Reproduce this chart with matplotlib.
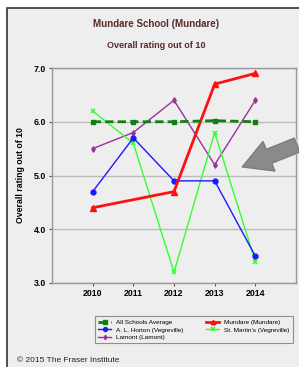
import matplotlib
matplotlib.use("Agg")
from matplotlib import pyplot as plt
from matplotlib.patches import Rectangle, FancyArrow
from matplotlib.transforms import IdentityTransform

plt.rcParams['font.family'] = ['Liberation Sans', 'DejaVu Sans']

anos = [2010, 2011, 2012, 2013, 2014]
media_escolas = [6.0, 6.0, 6.0, 6.02, 6.0]
anos_mundare = [2010, 2012, 2013, 2014]
mundare = [4.4, 4.7, 6.7, 6.9]
horton = [4.7, 5.7, 4.9, 4.9, 3.5]
st_martins = [6.2, 5.6, 3.2, 5.8, 3.4]
lamont = [5.5, 5.8, 6.4, 5.2, 6.4]

fundo = "#eeeeee"
cor_titulo = "#5a2a2a"

fig = plt.figure(figsize=(2.99, 3.67), dpi=100)
fig.patch.set_facecolor("white")

# moldura externa
fig.patches.append(Rectangle((7, -20), 320, 367 - 8 + 20, transform=IdentityTransform(),
                             facecolor=fundo, edgecolor="#333333", linewidth=1.2, zorder=-5))

ax = fig.add_axes([52 / 299, 1 - 283 / 367, 244 / 299, 215 / 367])
ax.set_facecolor(fundo)

ax.plot(anos, lamont, color="#993399", lw=1, marker="d", ms=2.8, label="Lamont (Lamont)", zorder=3)
ax.plot(anos, st_martins, color="#33ff33", lw=1, marker="x", ms=3, mew=1.2,
        label="St. Martin's (Vegreville)", zorder=3)
ax.plot(anos, horton, color="#1a1aff", lw=1, marker="o", ms=3.5, label="A. L. Horton (Vegreville)", zorder=3)
ax.plot(anos_mundare, mundare, color="#ff1010", lw=2, marker="^", ms=4,
        label="Mundare (Mundare)", zorder=4)
ax.plot(anos, media_escolas, color="#108010", lw=2, ls=(0, (3, 1.5)), marker="s", ms=3.2,
        label="All Schools Average", zorder=5)

ax.set_xlim(2009, 2015)
ax.set_ylim(3.0, 7.0)
ax.set_xticks(anos)
ax.set_xticklabels([str(a) for a in anos])
ax.set_yticks([3.0, 4.0, 5.0, 6.0, 7.0])
ax.set_yticklabels(["3.0", "4.0", "5.0", "6.0", "7.0"])
ax.tick_params(labelsize=6.3, length=2.5, color="#555555", width=0.8, pad=2)
for lbl in ax.get_xticklabels() + ax.get_yticklabels():
    lbl.set_fontweight("bold")
ax.grid(axis="y", color="#bbbbbb", lw=1)
ax.set_axisbelow(True)
for s in ax.spines.values():
    s.set_color("#999999")
    s.set_linewidth(1)

ax.set_ylabel("Overall rating out of 10", fontsize=6.3, fontweight="bold", labelpad=6)

fig.text(156 / 299, 1 - 24 / 367, "Mundare School (Mundare)", ha="center", va="center",
         fontsize=7, fontweight="bold", color=cor_titulo)
fig.text(156 / 299, 1 - 45 / 367, "Overall rating out of 10", ha="center", va="center",
         fontsize=6.5, fontweight="bold", color=cor_titulo)
fig.text(17 / 299, 1 - 360 / 367, "\u00a9 2015 The Fraser Institute", ha="left", va="center",
         fontsize=6, color="#222222")

# seta cinza (com sombra leve)
fig.patches.append(FancyArrow(298, 367 - 144, -56, -22, width=15, head_width=32, head_length=29,
                              length_includes_head=True, transform=IdentityTransform(),
                              facecolor="#cccccc", edgecolor="none", zorder=9,
                              alpha=0.8))
fig.patches[-1].set_transform(IdentityTransform() + matplotlib.transforms.Affine2D().translate(1.5, -1.5))
fig.patches.append(FancyArrow(297, 367 - 145, -55, -22, width=15, head_width=32, head_length=29,
                              length_includes_head=True, transform=IdentityTransform(),
                              facecolor="#8a8a8a", edgecolor="#777777", lw=0.8, zorder=10))

h, l = ax.get_legend_handles_labels()
ordem = ["All Schools Average", "A. L. Horton (Vegreville)", "Lamont (Lamont)",
         "Mundare (Mundare)", "St. Martin's (Vegreville)"]
hs = [h[l.index(o)] for o in ordem]
leg = fig.legend(hs, ordem, loc="upper left", ncol=2, mode="expand",
                 bbox_to_anchor=(92 / 299, 1 - 344 / 367, 204 / 299, 31 / 367),
                 fontsize=4.6, frameon=True, fancybox=False, handlelength=2,
                 handletextpad=0.8, labelspacing=0.35, borderpad=0.5, markerscale=0.8)
leg.get_frame().set_edgecolor("#777777")
leg.get_frame().set_facecolor(fundo)
leg.get_frame().set_linewidth(0.8)

fig.savefig("out.png", dpi=100, facecolor=fig.get_facecolor())
